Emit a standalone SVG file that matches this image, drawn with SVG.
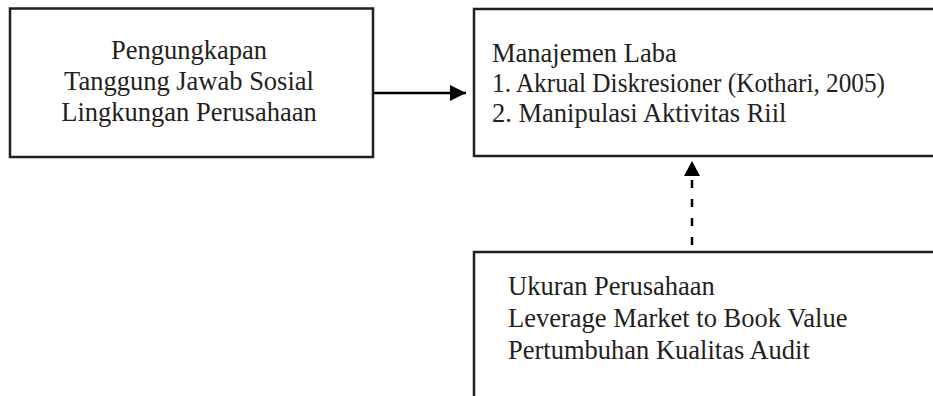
<svg xmlns="http://www.w3.org/2000/svg" width="933" height="396" viewBox="0 0 933 396">
<style>
.box{fill:#fff;stroke:#231f20;stroke-width:2.5}
.t{font-family:"Liberation Serif","Times New Roman",serif;font-size:26.5px;fill:#231f20}
.c{stroke:#000;stroke-width:2.5;fill:none}
</style>
<defs>
<marker id="ah" markerWidth="16" markerHeight="16" viewBox="0 0 16 16" refX="16" refY="8" markerUnits="userSpaceOnUse" orient="auto">
<path d="M0,0 L16,8 L0,16 Z" fill="#000"/>
</marker>
</defs>
<rect width="933" height="396" fill="#fff"/>
<g id="node-csr">
<rect class="box" x="10" y="8.5" width="363" height="148.5"/>
<text class="t" text-anchor="middle" x="189" y="59">Pengungkapan</text>
<text class="t" text-anchor="middle" x="189" y="90">Tanggung Jawab Sosial</text>
<text class="t" text-anchor="middle" x="189" y="121">Lingkungan Perusahaan</text>
</g>
<g id="node-laba">
<rect class="box" x="474" y="9" width="470" height="147"/>
<text class="t" x="492" y="62">Manajemen Laba</text>
<text class="t" x="492" y="92" textLength="393" lengthAdjust="spacingAndGlyphs">1. Akrual Diskresioner (Kothari, 2005)</text>
<text class="t" x="492" y="122">2. Manipulasi Aktivitas Riil</text>
</g>
<g id="node-kontrol">
<rect class="box" x="474" y="252" width="470" height="160"/>
<text class="t" x="508" y="295">Ukuran Perusahaan</text>
<text class="t" x="508" y="327">Leverage Market to Book Value</text>
<text class="t" x="508" y="359">Pertumbuhan Kualitas Audit</text>
</g>
<g id="connectors">
<line class="c" x1="373" y1="93" x2="466" y2="93" marker-end="url(#ah)"/>
<line class="c" x1="692" y1="245" x2="692" y2="176" stroke-dasharray="8 11"/>
<path d="M684,176 L692,161 L700,176 Z" fill="#000"/>
</g>
</svg>
